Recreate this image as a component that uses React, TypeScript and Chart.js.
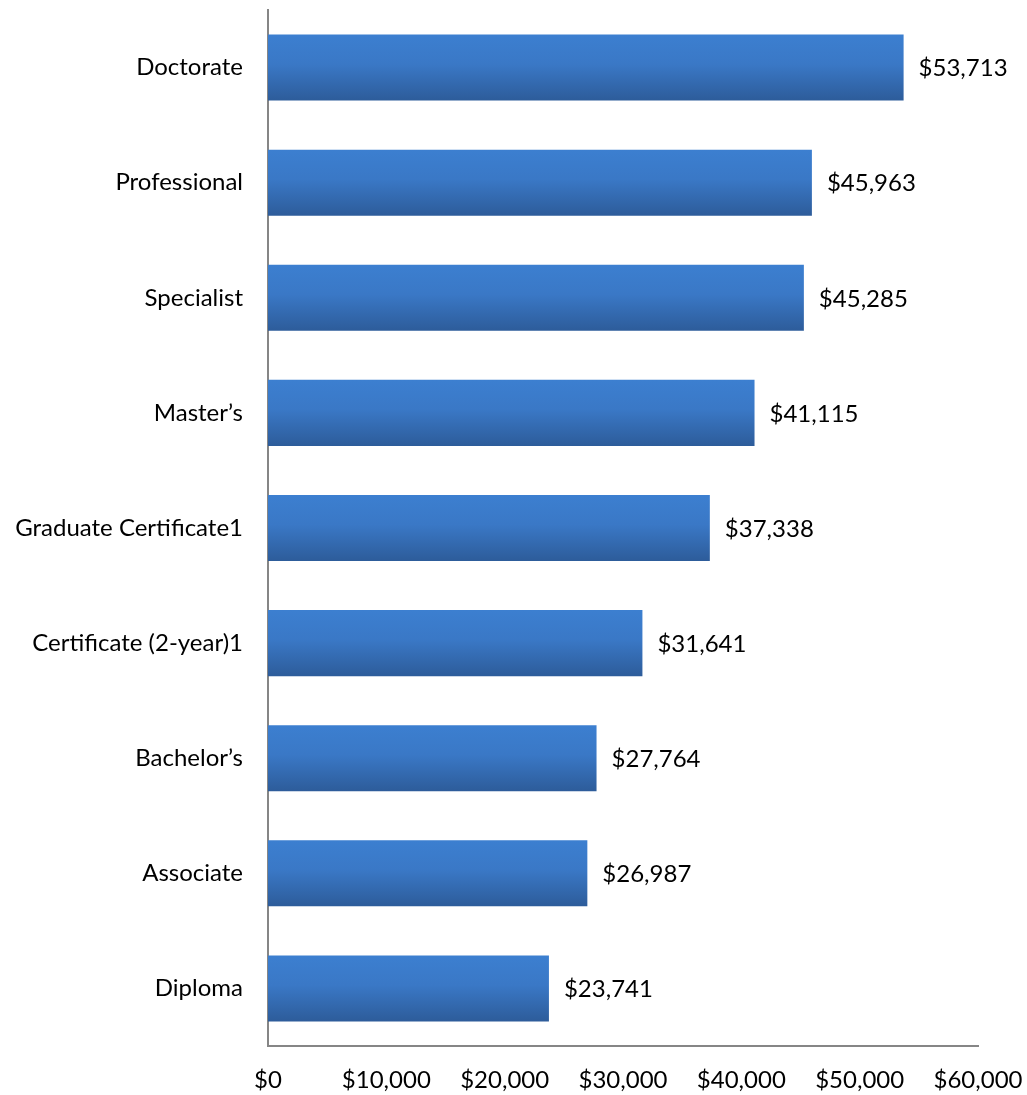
import React, { useEffect, useRef } from "react";
import { Chart, registerables } from "chart.js";

Chart.register(...registerables);

const categories = [
  "Doctorate",
  "Professional",
  "Specialist",
  "Master\u2019s",
  "Graduate Certificate1",
  "Certificate (2-year)1",
  "Bachelor\u2019s",
  "Associate",
  "Diploma",
];
const salaries = [53713, 45963, 45285, 41115, 37338, 31641, 27764, 26987, 23741];
const xTicks = [0, 10000, 20000, 30000, 40000, 50000, 60000];

const FONT = "Lato, 'Open Sans', sans-serif";
const FONT_SIZE = 24;
const fmt = (v: number) => "$" + v.toLocaleString("en-US");

const valueLabels = {
  id: "valueLabels",
  afterDatasetsDraw(chart: any) {
    const ctx = chart.ctx;
    const meta = chart.getDatasetMeta(0);
    ctx.save();
    ctx.font = `${FONT_SIZE}px ${FONT}`;
    ctx.fillStyle = "#000";
    ctx.textAlign = "left";
    ctx.textBaseline = "middle";
    meta.data.forEach((bar: any, i: number) => {
      ctx.fillText(fmt(salaries[i]), bar.x + 15, bar.y + 1);
    });
    ctx.restore();
  },
};

export default function App() {
  const ref = useRef<HTMLCanvasElement>(null);
  useEffect(() => {
    if (!ref.current) return;
    const chart = new Chart(ref.current, {
      type: "bar",
      data: {
        labels: categories,
        datasets: [
          {
            data: salaries,
            backgroundColor: (c: any) => {
              const ch = c.chart;
              const ys = ch.scales && ch.scales.y;
              if (!ys || c.dataIndex == null || !ch.chartArea) return "#3a76c2";
              const center = ys.getPixelForValue(c.dataIndex);
              const half = 33;
              const g = ch.ctx.createLinearGradient(0, center - half, 0, center + half);
              g.addColorStop(0, "#3c7fd0");
              g.addColorStop(0.45, "#3a78c6");
              g.addColorStop(1, "#2d5c9a");
              return g;
            },
            borderWidth: 0,
            categoryPercentage: 1,
            barPercentage: 0.574,
          },
        ],
      },
      options: {
        indexAxis: "y",
        animation: false,
        responsive: false,
        maintainAspectRatio: false,
        layout: { padding: { top: 10, right: 49, left: 0, bottom: 0 } },
        plugins: { legend: { display: false }, tooltip: { enabled: false } },
        scales: {
          x: {
            min: 0,
            max: 60000,
            afterFit: (s: any) => {
              s.height = 49;
              s.paddingLeft = 0;
              s.paddingRight = 0;
            },
            afterBuildTicks: (s: any) => {
              s.ticks = xTicks.map((v) => ({ value: v }));
            },
            grid: { display: false, drawTicks: false },
            border: { display: true, color: "#868686", width: 2 },
            ticks: {
              padding: 20,
              color: "#000",
              font: { family: FONT, size: FONT_SIZE },
              maxRotation: 0,
              callback: (v: any) => fmt(Number(v)),
            },
          },
          y: {
            afterFit: (s: any) => {
              s.width = 268;
              s.paddingTop = 0;
              s.paddingBottom = 0;
            },
            grid: { display: false, drawTicks: false },
            border: { display: true, color: "#868686", width: 2 },
            ticks: {
              padding: 25,
              color: "#000",
              font: { family: FONT, size: FONT_SIZE },
            },
          },
        },
      },
      plugins: [valueLabels],
    });
    return () => chart.destroy();
  }, []);
  return (
    <div style={{ position: "fixed", left: 0, top: 0, width: 1027, height: 1095, background: "#fff" }}>
      <canvas ref={ref} width={1027} height={1095} style={{ width: 1027, height: 1095 }} />
    </div>
  );
}
